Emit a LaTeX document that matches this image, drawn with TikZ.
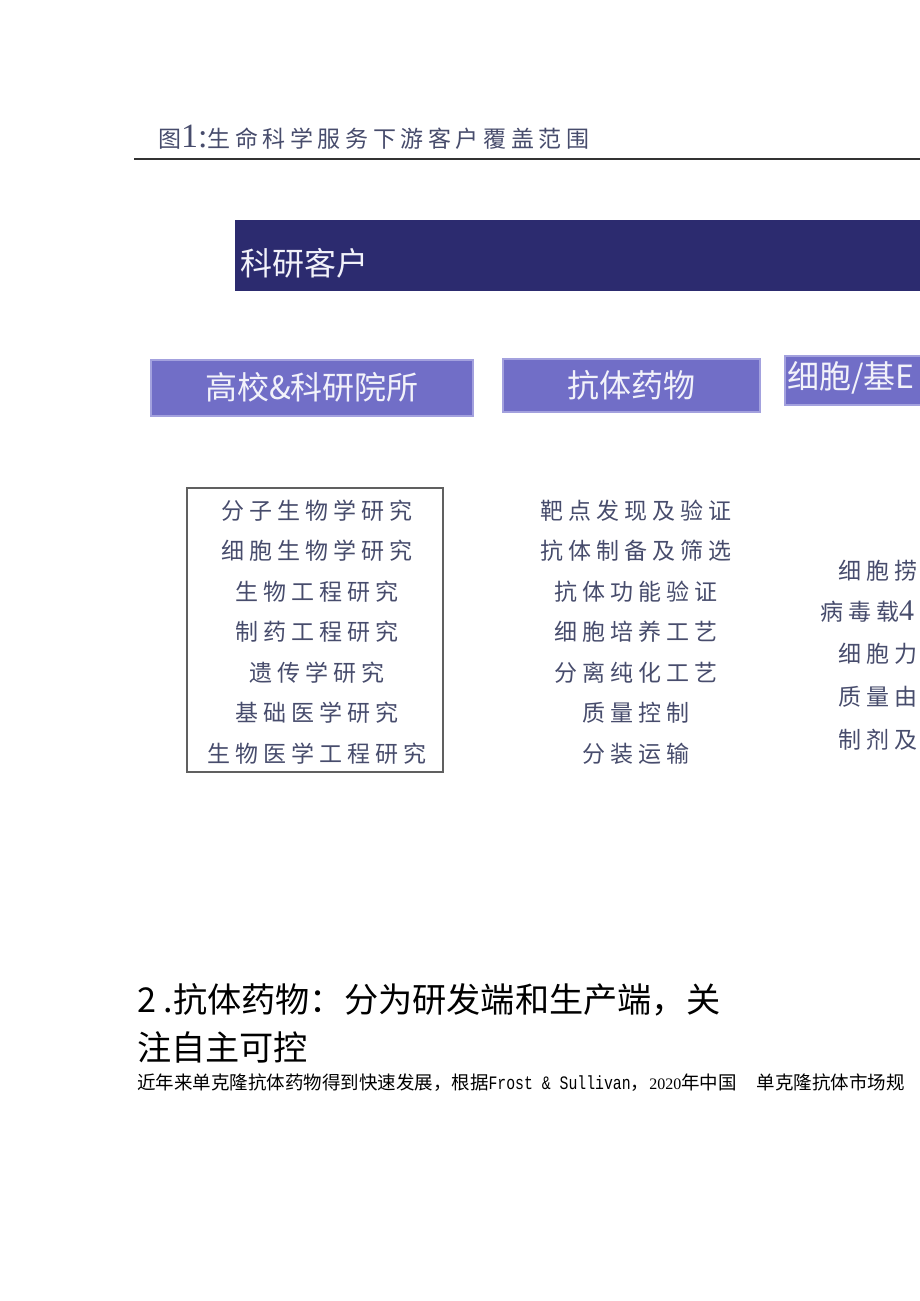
\documentclass[tikz,border=0pt]{standalone}
\usepackage{fontspec}
\setmainfont{Liberation Serif}
\setmonofont{Liberation Mono}[FakeStretch=0.78]
\newfontfamily\cjk{Noto Sans CJK SC}
\newfontfamily\cjkspaced{Noto Sans CJK SC}[LetterSpace=22]
\newfontfamily\cjktitle{Noto Sans CJK SC}[LetterSpace=20]
\usetikzlibrary{positioning}
\definecolor{navy}{HTML}{2C2B6F}
\definecolor{lilac}{HTML}{716EC7}
\definecolor{lilacline}{HTML}{A3A1DE}
\definecolor{inkblue}{HTML}{474C6C}
\definecolor{tabtext}{HTML}{F2F2FA}

\begin{document}
\begin{tikzpicture}[x=0.5pt, y=-0.5pt, every node/.style={inner sep=0pt, outer sep=0pt},
  bar/.style={fill=navy, minimum width=360pt, minimum height=35.5pt, anchor=north west},
  tab/.style={fill=lilac, draw=lilacline, line width=0.8pt, text=tabtext, font=\cjk\fontsize{16}{16}\selectfont},
  tablabel/.style={anchor=west, text=tabtext, font=\cjk\fontsize{16}{16}\selectfont},
  item/.style={text=inkblue, align=center, font=\cjkspaced\fontsize{11.5}{20.25}\selectfont},
  cut/.style={text=inkblue, anchor=west, font=\cjkspaced\fontsize{11.5}{11.5}\selectfont}]
\clip (0,0) rectangle (920,1301);
% Title
\node[anchor=west, text=inkblue, font=\cjktitle\fontsize{11.5}{11.5}\selectfont] (title) at (158,137) {图{\rmfamily\fontsize{17}{17}\selectfont 1:}生命科学服务下游客户覆盖范围};
\coordinate (ruleL) at (134,159);
\coordinate (ruleR) at (920,159);
\draw[line width=0.8pt, black!80] (ruleL) -- (ruleR);
% Band
\node[bar] (band) at (235,220) {};
\node[tablabel] (bandlabel) at (240,263) {科研客户};
% Tabs
\node[tab, minimum width=161pt, minimum height=28pt] (campus) at (312,388) {\raisebox{2.5pt}{高校\&科研院所}};
\node[tab, minimum width=128.5pt, minimum height=26.5pt] (drug) at (631.5,385.5) {\raisebox{2pt}{抗体药物}};
\node[tab, minimum width=100pt, minimum height=24.5pt, anchor=north west] (cell) at (785,356) {};
\node[tablabel] (celllabel) at (787,378) {细胞/基E};
% Lists
\node[draw=gray!75!black, line width=0.6pt, minimum width=128pt, minimum height=142pt] (campusbox) at (315,630) {};
\node[item] (campuslist) at (317,632) {分子生物学研究\\细胞生物学研究\\生物工程研究\\制药工程研究\\遗传学研究\\基础医学研究\\生物医学工程研究};
\node[item] (druglist) at (636,632) {靶点发现及验证\\抗体制备及筛选\\抗体功能验证\\细胞培养工艺\\分离纯化工艺\\质量控制\\分装运输};
\node[cut] (cell1) at (838,571) {细胞捞};
\node[cut] (cell2) at (820,612) {病毒载{\rmfamily\fontsize{15}{15}\selectfont 4}};
\node[cut] (cell3) at (838,654) {细胞力};
\node[cut] (cell4) at (838,697) {质量由};
\node[cut] (cell5) at (838,740) {制剂及};
% Text below
\node[anchor=west, font=\cjk\fontsize{17.1}{17.1}\selectfont] (heading) at (137,1000) {2 .抗体药物：分为研发端和生产端，关};
\node[anchor=west, font=\cjk\fontsize{17.1}{17.1}\selectfont] (heading2) at (137,1047) {注自主可控};
\node[anchor=west, font=\cjk\fontsize{9.25}{9.25}\selectfont] (para) at (137,1083) {近年来单克隆抗体药物得到快速发展，根据{\ttfamily\fontsize{9.5}{9.5}\selectfont Frost \& Sullivan}，{\rmfamily\fontsize{8}{8}\selectfont 2020}年中国\hspace{10pt}单克隆抗体市场规};
\end{tikzpicture}
\end{document}
